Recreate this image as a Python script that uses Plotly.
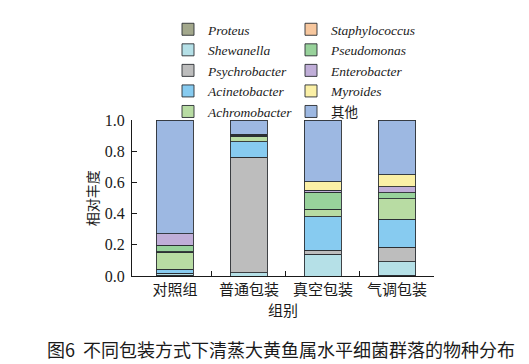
import plotly.graph_objects as go

categories = ["对照组", "普通包装", "真空包装", "气调包装"]

proteus = [0.005, 0.0, 0.0, 0.004]
shewanella = [0.008, 0.022, 0.138, 0.086]
psychrobacter = [0.004, 0.740, 0.027, 0.095]
acinetobacter = [0.026, 0.100, 0.215, 0.180]
achromobacter = [0.110, 0.035, 0.047, 0.129]
staphylococcus = [0.002, 0.0, 0.0, 0.0]
pseudomonas = [0.043, 0.006, 0.110, 0.041]
enterobacter = [0.072, 0.004, 0.014, 0.036]
myroides = [0.0, 0.003, 0.052, 0.077]
others = [0.730, 0.090, 0.397, 0.352]

yticks = [0.0, 0.2, 0.4, 0.6, 0.8, 1.0]
boundary_ticks = [0.5, 1.5, 2.5, 3.5]

series = [
    ("<i>Proteus</i>", proteus, "#a3a88c", "legend"),
    ("<i>Shewanella</i>", shewanella, "#b5e0e7", "legend"),
    ("<i>Psychrobacter</i>", psychrobacter, "#bdbdbd", "legend"),
    ("<i>Acinetobacter</i>", acinetobacter, "#87cbf0", "legend"),
    ("<i>Achromobacter</i>", achromobacter, "#b8dca3", "legend"),
    ("<i>Staphylococcus</i>", staphylococcus, "#f7c79e", "legend2"),
    ("<i>Pseudomonas</i>", pseudomonas, "#98d29b", "legend2"),
    ("<i>Enterobacter</i>", enterobacter, "#c0aed8", "legend2"),
    ("<i>Myroides</i>", myroides, "#fbf0a6", "legend2"),
    ("其他", others, "#9db8e2", "legend2"),
]

fig = go.Figure()
for name, vals, color, lg in series:
    fig.add_trace(go.Bar(
        x=categories, y=vals, name=name, legend=lg,
        marker=dict(color=color, line=dict(color="#2b2f33", width=0.9)),
        width=0.5,
    ))

# invisible helper trace so the boundary-tick axis is drawn
fig.add_trace(go.Scatter(
    x=boundary_ticks, y=[None] * len(boundary_ticks), xaxis="x2", yaxis="y",
    mode="markers", showlegend=False, hoverinfo="skip",
))

serif = "Liberation Serif, Noto Sans CJK SC"
cjk = "Noto Sans CJK SC"
ink = "#1a1a1a"

W, H = 521, 356  # page body has an 8px margin in the 529x364 window

legend_common = dict(
    xref="container", yref="container", yanchor="top", xanchor="left",
    traceorder="normal", font=dict(family=serif, size=13.5, color=ink),
    itemwidth=30, bgcolor="rgba(0,0,0,0)", tracegroupgap=0,
)

fig.update_layout(
    width=W, height=H,
    barmode="stack",
    paper_bgcolor="white", plot_bgcolor="white",
    margin=dict(l=124, r=95, t=112, b=88, autoexpand=False),
    showlegend=True,
    legend=dict(x=160 / W, y=1 - 6 / H, **legend_common),
    legend2=dict(x=283 / W, y=1 - 6 / H, **legend_common),
    xaxis=dict(
        type="category", range=[-0.58, 3.5],
        showline=True, linecolor=ink, linewidth=1.2,
        ticks="", showgrid=False,
        tickfont=dict(family=cjk, size=15, color=ink),
        title=dict(text="组别", font=dict(family=cjk, size=15, color=ink), standoff=7),
    ),
    xaxis2=dict(
        overlaying="x", anchor="y", range=[-0.58, 3.5], type="linear",
        tickvals=boundary_ticks, ticks="inside", ticklen=5, tickcolor=ink, tickwidth=1.2,
        showticklabels=False, showgrid=False, showline=False, zeroline=False,
        side="bottom",
    ),
    yaxis=dict(
        range=[0, 1.0], tickvals=yticks, ticktext=[f"{v:.1f}" for v in yticks],
        showline=True, linecolor=ink, linewidth=1.2,
        ticks="inside", ticklen=5, tickcolor=ink, ticklabelstandoff=3,
        showgrid=False, zeroline=False,
        tickfont=dict(family=serif, size=16, color=ink),
    ),
    annotations=[
        dict(
            text="相对丰度", textangle=-90,
            xref="paper", yref="paper", x=-0.132, y=0.5, xanchor="center", yanchor="middle",
            showarrow=False, font=dict(family=cjk, size=14, color=ink),
        ),
        dict(
            text="图6  不同包装方式下清蒸大黄鱼属水平细菌群落的物种分布",
            xref="paper", yref="paper", x=-0.288, y=-0.37, xanchor="left", yanchor="top",
            showarrow=False, font=dict(family=cjk, size=18, color=ink),
        ),
    ],
)

fig.write_html("out.html")
